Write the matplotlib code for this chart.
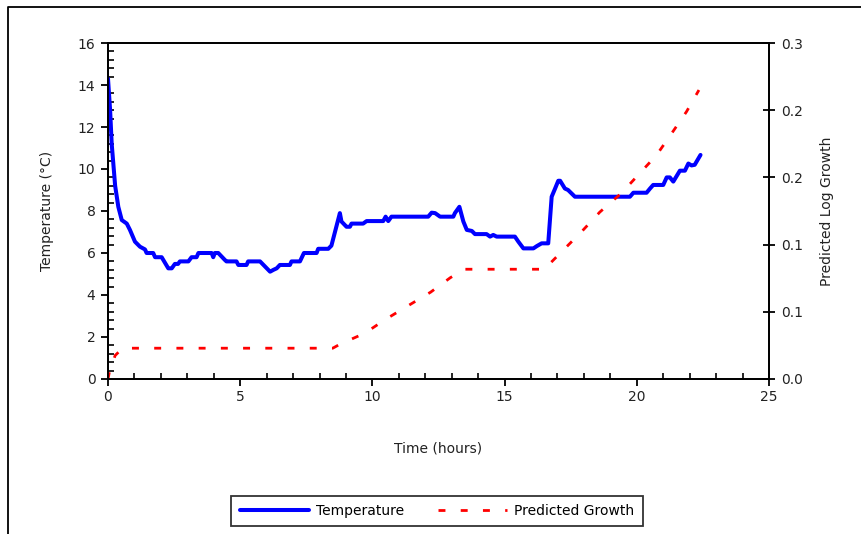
import numpy as np
import matplotlib
matplotlib.use("Agg")
import matplotlib.pyplot as plt
from matplotlib.lines import Line2D

# temperature log (hours, deg C)
time_temp = [0, 0.08, 0.14, 0.27, 0.39, 0.52, 0.71, 0.83, 1.02, 1.21, 1.40, 1.46, 1.71, 1.78,
             2.03, 2.28, 2.41, 2.53, 2.65, 2.72, 3.04, 3.16, 3.35, 3.42, 3.92, 3.98, 4.04, 4.17,
             4.42, 4.48, 4.86, 4.93, 5.24, 5.30, 5.75, 6.13, 6.26, 6.38, 6.50, 6.88, 6.94, 7.26,
             7.41, 7.89, 7.95, 8.33, 8.45, 8.77, 8.83, 9.02, 9.15, 9.21, 9.65, 9.78, 10.41, 10.50,
             10.60, 10.72, 12.11, 12.24, 12.37, 12.56, 13.06, 13.12, 13.29, 13.44, 13.57, 13.76,
             13.88, 14.32, 14.45, 14.57, 14.70, 15.39, 15.52, 15.71, 16.09, 16.22, 16.40, 16.65,
             16.78, 16.91, 17.03, 17.10, 17.28, 17.40, 17.53, 17.66, 19.74, 19.87, 20.37, 20.50,
             20.62, 21.00, 21.13, 21.25, 21.38, 21.63, 21.82, 21.95, 22.07, 22.19, 22.33, 22.41]
temp = [14.3, 12.8, 11.2, 9.2, 8.2, 7.57, 7.4, 7.1, 6.54, 6.3, 6.17, 6.0, 6.0, 5.8,
        5.8, 5.27, 5.27, 5.48, 5.48, 5.6, 5.6, 5.8, 5.8, 6.0, 6.0, 5.8, 6.0, 6.0,
        5.67, 5.6, 5.6, 5.43, 5.43, 5.6, 5.6, 5.11, 5.2, 5.27, 5.43, 5.43, 5.6, 5.6,
        6.0, 6.0, 6.2, 6.2, 6.35, 7.9, 7.5, 7.25, 7.25, 7.4, 7.4, 7.52, 7.52, 7.73,
        7.52, 7.73, 7.73, 7.92, 7.9, 7.73, 7.73, 7.9, 8.2, 7.5, 7.1, 7.05,
        6.9, 6.9, 6.78, 6.86, 6.78, 6.78, 6.54, 6.22, 6.22, 6.33, 6.46, 6.46,
        8.68, 9.07, 9.44, 9.44, 9.07, 9.0, 8.84, 8.68, 8.68, 8.87, 8.87, 9.07,
        9.24, 9.24, 9.6, 9.6, 9.4, 9.92, 9.92, 10.26, 10.17, 10.2, 10.5, 10.67]

# predicted log growth
time_growth = [0, 0.05, 0.27, 0.55, 8.5, 8.77, 9.72, 10.48, 11.32, 12.2, 12.95, 13.5, 16.5,
               17.16, 17.91, 18.6, 19.42, 20.11, 20.75, 21.31, 21.88, 22.35]
growth = [0, 0.006, 0.021, 0.0275, 0.0275, 0.031, 0.041, 0.053, 0.065, 0.0775, 0.0905, 0.098,
          0.098, 0.1137, 0.1315, 0.149, 0.166, 0.1836, 0.20, 0.219, 0.2387, 0.258]

plt.rcParams['font.family'] = 'DejaVu Sans'
fs = 10

fig = plt.figure(figsize=(8.61, 5.34), dpi=100)
ax = fig.add_axes([108/861, 155/534, 661/861, 336/534])
ax2 = ax.twinx()

l1, = ax.plot(time_temp, temp, color='#0000ff', lw=2.9, solid_capstyle='round',
              solid_joinstyle='round', zorder=3)
l2, = ax2.plot(time_growth, growth, color='#ff0000', lw=2.0, dashes=(2.5, 5.5))

ax.set_xlim(0, 25)
ax.set_ylim(0, 16)
ax2.set_ylim(0, 0.3)
ax.set_xticks(np.arange(0, 26, 5))
ax.set_xticks(np.arange(0, 26, 1), minor=True)
ax.set_yticks(np.arange(0, 17, 2))
ax.set_yticks(np.arange(0, 16.01, 0.4), minor=True)
ax2.set_yticks(np.linspace(0, 0.3, 6))
ax2.set_yticklabels(['%.1f' % v for v in np.linspace(0, 0.3, 6)])

ax.tick_params(axis='x', which='major', direction='out', length=5, width=1.3, labelsize=fs, pad=3)
ax.tick_params(axis='x', which='minor', direction='in', length=4, width=1.2)
ax.tick_params(axis='y', which='major', direction='out', length=5, width=1.3, labelsize=fs, pad=4)
ax.tick_params(axis='y', which='minor', direction='in', length=4, width=1.2)
ax2.tick_params(axis='y', which='major', direction='inout', length=8, width=1.3, labelsize=fs, pad=5)
for a in (ax, ax2):
    for s in a.spines.values():
        s.set_linewidth(1.3)
    a.tick_params(colors='black', labelcolor='#222222')

ax.set_xlabel('Time (hours)', fontsize=fs, labelpad=27, color='#222222')
ax.set_ylabel('Temperature (°C)', fontsize=fs, labelpad=17, color='#222222')
ax2.set_ylabel('Predicted Log Growth', fontsize=fs, labelpad=12, color='#222222')

leg = fig.legend([l1, l2], ['Temperature', 'Predicted Growth'], ncol=2, fontsize=fs,
                 loc='center', bbox_to_anchor=(437/861, 1 - 511/534), frameon=True,
                 fancybox=False, handlelength=5.0, handletextpad=0.5, columnspacing=2.4,
                 borderpad=0.6, borderaxespad=0.3)
leg.get_frame().set_edgecolor('black')
leg.get_frame().set_linewidth(1.3)

# outer chart border (cropped)
fig.add_artist(Line2D([8/861, 8/861, 1.01], [-0.01, 1 - 7/534, 1 - 7/534],
                      transform=fig.transFigure, color='black', lw=1.3))

fig.savefig('out.png', dpi=100)
